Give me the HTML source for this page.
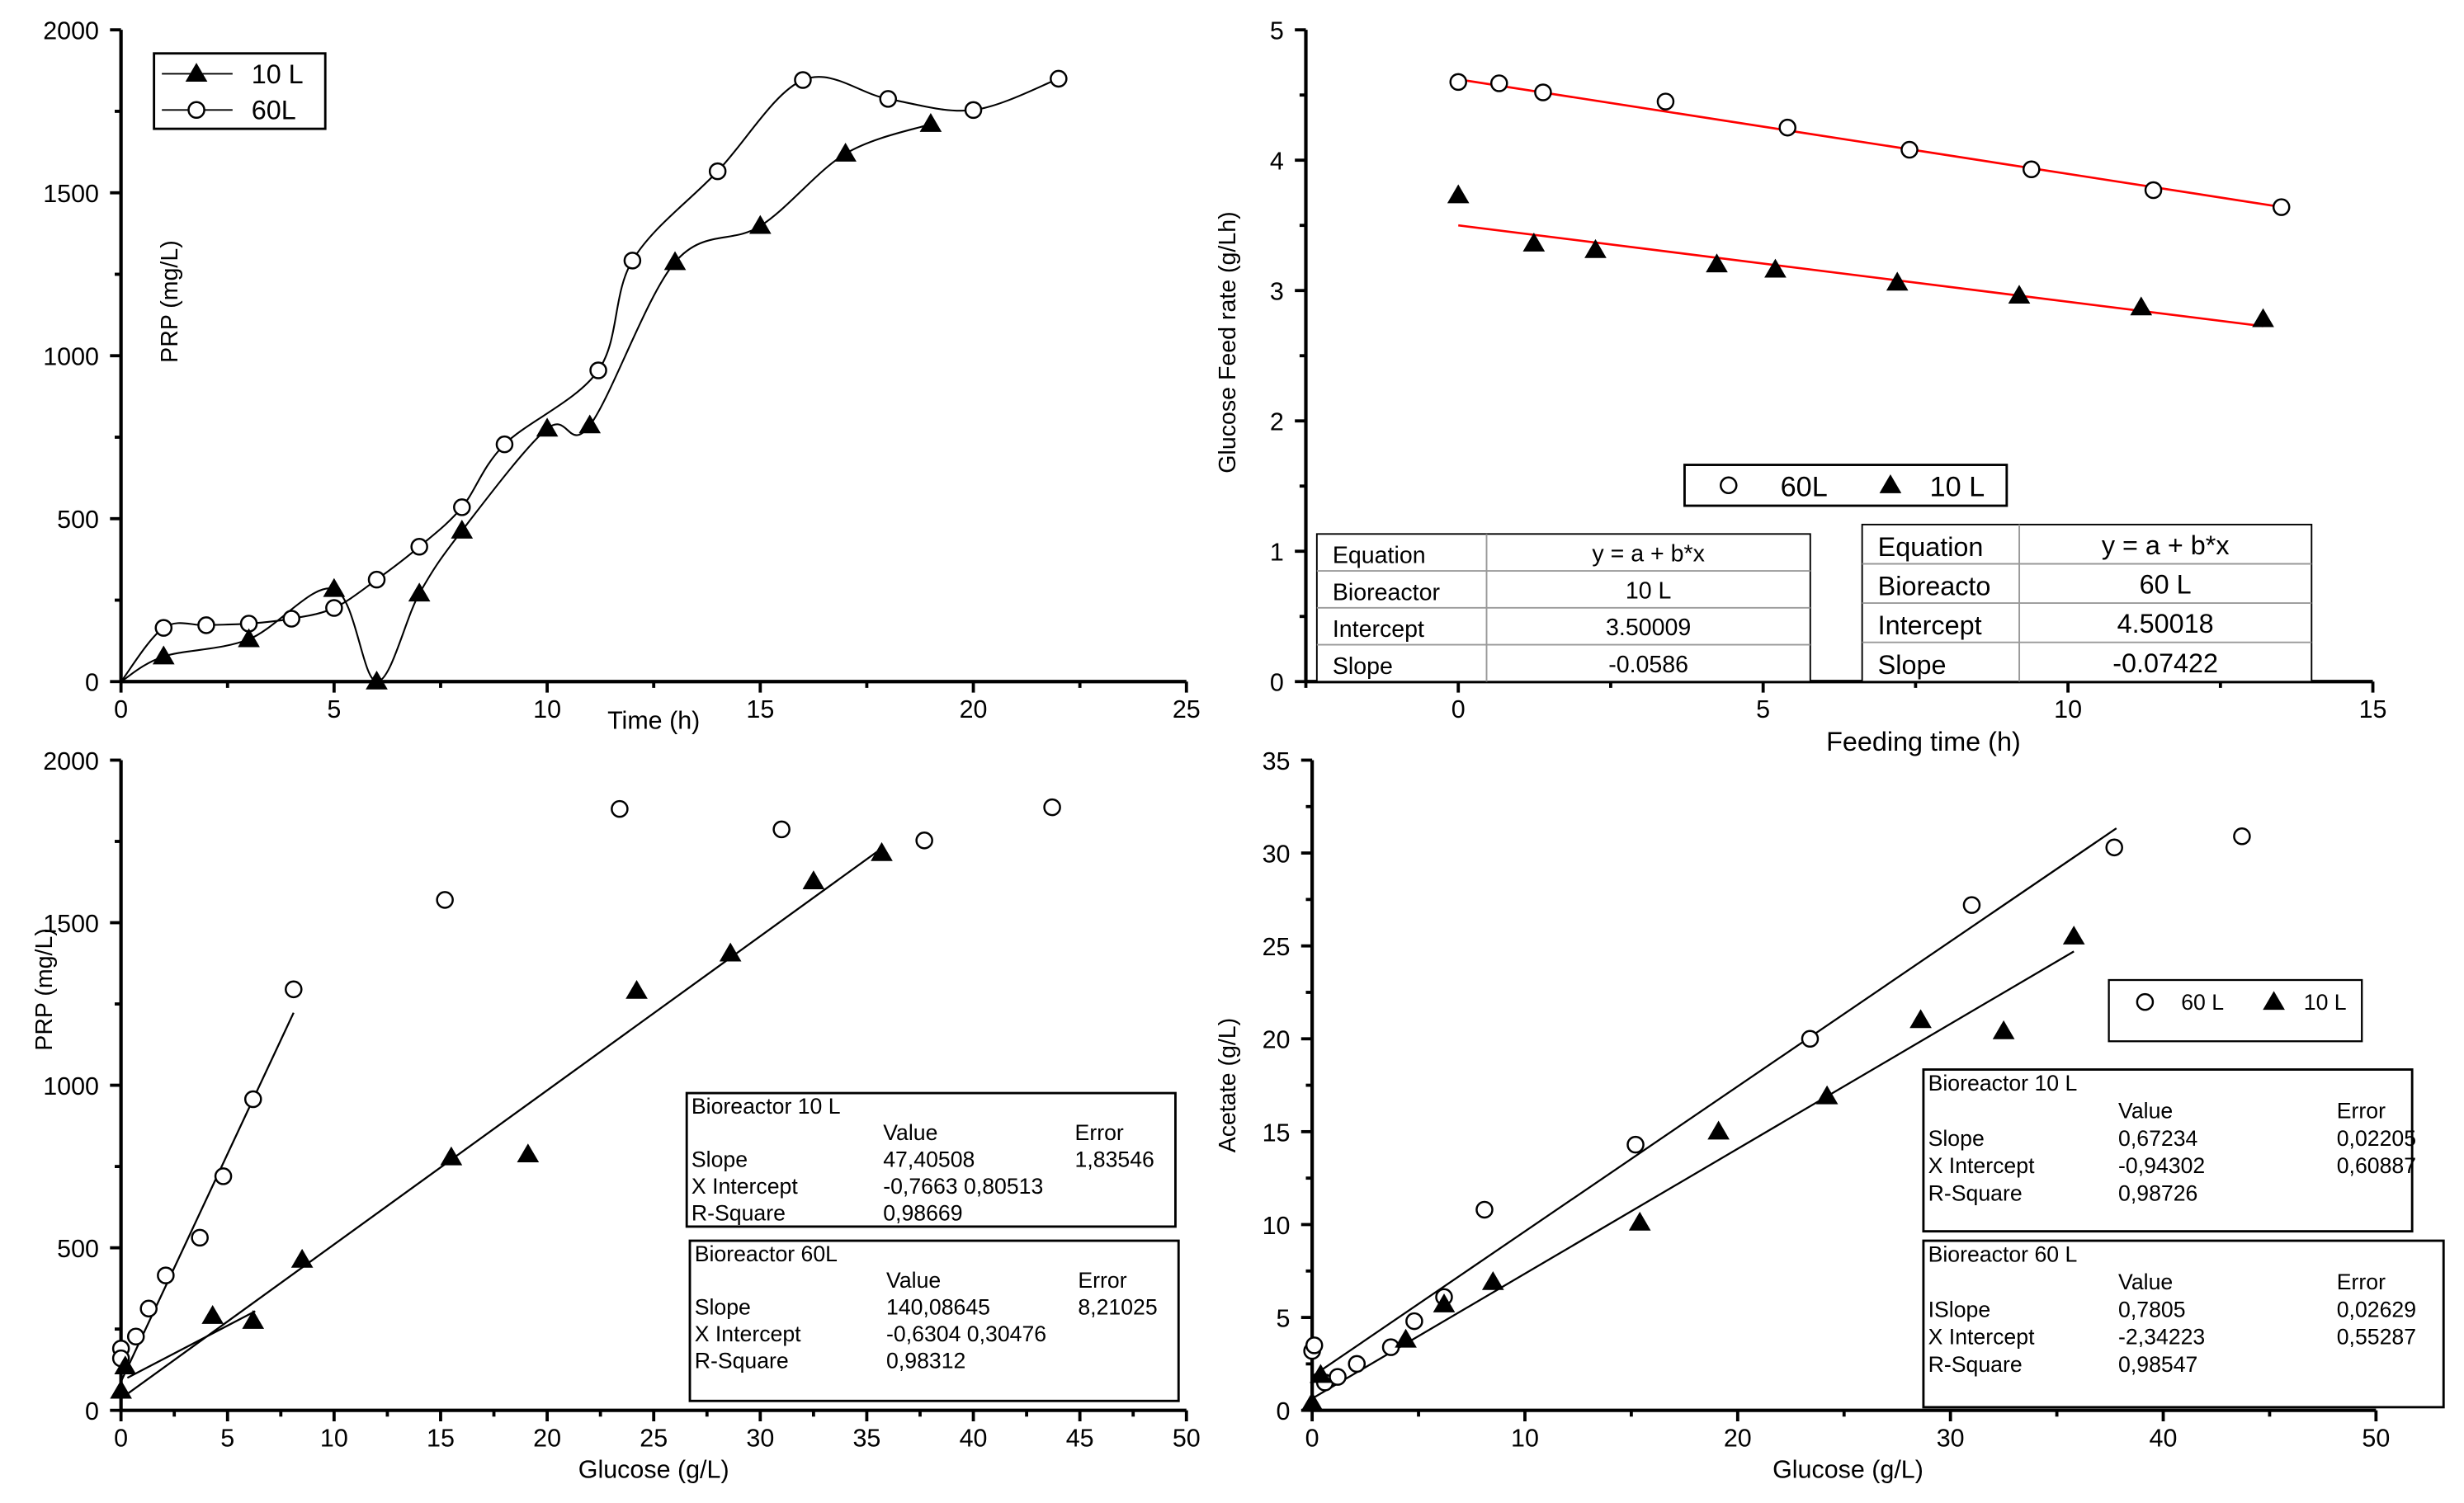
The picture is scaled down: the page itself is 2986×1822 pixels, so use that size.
<!DOCTYPE html>
<html><head><meta charset="utf-8"><style>
html,body{margin:0;padding:0;background:#fff}
svg{display:block}
text{font-family:"Liberation Sans",Arial,sans-serif;fill:#000}
</style></head><body>
<svg id="s" xmlns="http://www.w3.org/2000/svg" width="2986" height="1822" viewBox="0 0 1568 957" preserveAspectRatio="none">
<g id="root"></g>
</svg>
<script>
// Panel A: PRP vs time
const timeA = [0,1,3,5,6,7,8,10,11,13,15,17,19];
const prp10A = [0,77,130,284,0,270,463,776,786,1287,1398,1620,1711];
const timeA60 = [0,1,2,3,4,5,6,7,8,9,11.2,12,14,16,18,20,22];
const prp60A = [0,165,173,178,193,226,313,414,535,728,955,1292,1566,1846,1788,1754,1850];
// Panel B: glucose feed rate
const timeB60 = [0,0.67,1.39,3.4,5.4,7.4,9.4,11.4,13.5];
const feed60B = [4.60,4.59,4.52,4.45,4.25,4.08,3.93,3.77,3.64];
const timeB10 = [0,1.24,2.25,4.24,5.2,7.2,9.2,11.2,13.2];
const feed10B = [3.73,3.36,3.31,3.20,3.16,3.06,2.96,2.87,2.78];
const fitB60 = [4.62,-0.0725];
const fitB10 = [3.50009,-0.0586];
// Panel C: PRP vs glucose
const gluC60 = [0,0,0.7,1.3,2.1,3.7,4.8,6.2,8.1,15.2,23.4,31,37.7,43.7];
const prpC60 = [190,160,227,313,415,531,720,957,1295,1570,1850,1787,1753,1855];
const gluC10 = [0,0.2,4.3,6.2,8.5,15.5,19.1,24.2,28.6,32.5,35.7];
const prpC10 = [60,135,290,275,463,778,787,1290,1405,1627,1714];
// Panel D: acetate vs glucose
const gluD60 = [0,0.1,0.6,1.2,2.1,3.7,4.8,6.2,8.1,15.2,23.4,31,37.7,43.7];
const aceD60 = [3.2,3.5,1.5,1.8,2.5,3.4,4.8,6.1,10.8,14.3,20.0,27.2,30.3,30.9];
const gluD10 = [0,0.4,4.4,6.2,8.5,15.4,19.1,24.2,28.6,32.5,35.8];
const aceD10 = [0.4,1.9,3.8,5.7,6.9,10.1,15.0,16.9,21.0,20.4,25.5];

const NS="http://www.w3.org/2000/svg";
const root=document.getElementById('root');
function el(tag,attrs,parent,txt){const e=document.createElementNS(NS,tag);for(const k in attrs)e.setAttribute(k,attrs[k]);if(txt!==undefined)e.textContent=txt;(parent||root).appendChild(e);return e;}
function scale(d0,d1,r0,r1){return v=>r0+(v-d0)*(r1-r0)/(d1-d0);}

function axes(g,X,Y,xr,yr,xt,yt,xminor,yminor,x0,y0){
  el('line',{x1:X(xr[0]),y1:Y(y0),x2:X(xr[1]),y2:Y(y0),stroke:'#000','stroke-width':2.2},g);
  el('line',{x1:X(x0),y1:Y(yr[0]),x2:X(x0),y2:Y(yr[1]),stroke:'#000','stroke-width':2.2},g);
  xt.forEach(v=>{const t=el('line',{x1:X(v),y1:Y(y0),x2:X(v),y2:Y(y0)+7,stroke:'#000','stroke-width':2},g);
    
    const l=el('text',{x:X(v),y:Y(y0)+23,'font-size':16,'text-anchor':'middle'},g,String(v));
    });
  xminor.forEach(v=>{el('line',{x1:X(v),y1:Y(y0),x2:X(v),y2:Y(y0)+4,stroke:'#000','stroke-width':2},g);});
  yt.forEach(v=>{const t=el('line',{x1:X(x0),y1:Y(v),x2:X(x0)-7,y2:Y(v),stroke:'#000','stroke-width':2},g);
    
    const l=el('text',{x:X(x0)-14,y:Y(v)+6,'font-size':16,'text-anchor':'end'},g,String(v));
    });
  yminor.forEach(v=>{el('line',{x1:X(x0),y1:Y(v),x2:X(x0)-4,y2:Y(v),stroke:'#000','stroke-width':2},g);});
}
function circ(g,x,y){const c=el('circle',{cx:x,cy:y,r:5,fill:'#fff',stroke:'#000','stroke-width':1.3},g);
  }
function tri(g,x,y){const p=el('polygon',{points:`${x},${y-7} ${x-7},${y+5} ${x+7},${y+5}`,fill:'#000'},g);
  }
function spline(pts){let d=`M${pts[0][0]},${pts[0][1]}`;
  for(let i=0;i<pts.length-1;i++){const p0=pts[Math.max(0,i-1)],p1=pts[i],p2=pts[i+1],p3=pts[Math.min(pts.length-1,i+2)];
    d+=` C${p1[0]+(p2[0]-p0[0])/6},${p1[1]+(p2[1]-p0[1])/6} ${p2[0]-(p3[0]-p1[0])/6},${p2[1]-(p3[1]-p1[1])/6} ${p2[0]},${p2[1]}`;}
  return d;}
function table(g,x,y,w,rows,rh,cols,fs){ // simple row text
  rows.forEach((r,i)=>r.forEach((c,j)=>{el('text',{x:x+cols[j],y:y+rh*(i+1)-4,'font-size':fs},g,c);}));
}

// ---------- Panel A ----------
{const g=el('g',{}); 
 const X=scale(0,25,77,755),Y=scale(0,2000,434,19);
 axes(g,X,Y,[0,25],[0,2000],[0,5,10,15,20,25],[0,500,1000,1500,2000],[2.5,7.5,12.5,17.5,22.5],[250,750,1250,1750],0,0);
 const p60=el('path',{d:spline(timeA60.map((t,i)=>[X(t),Y(prp60A[i])])),fill:'none',stroke:'#000','stroke-width':1.1},g);
 
 const p10=el('path',{d:spline(timeA.map((t,i)=>[X(t),Y(prp10A[i])])),fill:'none',stroke:'#000','stroke-width':1.1},g);
 
 timeA60.forEach((t,i)=>{if(i>0)circ(g,X(t),Y(prp60A[i]));});
 timeA.forEach((t,i)=>{if(i>0)tri(g,X(t),Y(prp10A[i]));});
 const yl=el('text',{x:0,y:0,'font-size':15,'text-anchor':'middle',transform:'translate(113,192) rotate(-90)'},g,'PRP (mg/L)');
 
 const xl=el('text',{x:416,y:464,'font-size':16,'text-anchor':'middle'},g,'Time (h)');
 
 const lg=el('g',{},g);
 el('rect',{x:98,y:34,width:109,height:48,fill:'#fff',stroke:'#000','stroke-width':1.5},lg);
 el('line',{x1:103,y1:47,x2:148,y2:47,stroke:'#000'},lg);tri(lg,125,47);
 el('text',{x:160,y:53,'font-size':17},lg,'10 L');
 el('line',{x1:103,y1:70,x2:148,y2:70,stroke:'#000'},lg);circ(lg,125,70);
 el('text',{x:160,y:76,'font-size':17},lg,'60L');
}
// ---------- Panel B ----------
{const g=el('g',{}); 
 const X=scale(0,15,928,1510),Y=scale(0,5,434,19);
 axes(g,X,Y,[-2.5,15],[0,5],[0,5,10,15],[0,1,2,3,4,5],[-2.5,2.5,7.5,12.5],[0.5,1.5,2.5,3.5,4.5],-2.5,0);
 const l1=el('line',{x1:X(0),y1:Y(fitB60[0]),x2:X(13.5),y2:Y(fitB60[0]+fitB60[1]*13.5),stroke:'#f00','stroke-width':1.4},g);
 
 const l2=el('line',{x1:X(0),y1:Y(fitB10[0]),x2:X(13.2),y2:Y(fitB10[0]+fitB10[1]*13.2),stroke:'#f00','stroke-width':1.4},g);
 
 timeB60.forEach((t,i)=>circ(g,X(t),Y(feed60B[i])));
 timeB10.forEach((t,i)=>tri(g,X(t),Y(feed10B[i])));
 const yl=el('text',{x:0,y:0,'font-size':15,'text-anchor':'middle',transform:'translate(786,218) rotate(-90)'},g,'Glucose Feed rate (g/Lh)');
 
 const xl=el('text',{x:1224,y:478,'font-size':17,'text-anchor':'middle'},g,'Feeding time (h)');
 
 const lg=el('g',{},g);
 el('rect',{x:1072,y:296,width:205,height:26,fill:'#fff',stroke:'#000','stroke-width':1.5},lg);
 circ(lg,1100,309);el('text',{x:1133,y:316,'font-size':18},lg,'60L');
 tri(lg,1203,309);el('text',{x:1228,y:316,'font-size':18},lg,'10 L');
 [[838,340,314,946,['Equation','Bioreactor','Intercept','Slope'],['y = a + b*x','10 L','3.50009','-0.0586'],23.5],
  [1185,334,286,1285,['Equation','Bioreacto','Intercept','Slope'],['y = a + b*x','60 L','4.50018','-0.07422'],25]].forEach((T,k)=>{
  const tg=el('g',{},g);
  const [x,y,w,cx,a,b,rh]=T;
  el('rect',{x:x,y:y,width:w,height:434-y,fill:'#fff',stroke:'#000','stroke-width':1},tg);
  el('line',{x1:cx,y1:y,x2:cx,y2:434,stroke:'#999'},tg);
  for(let i=1;i<4;i++)el('line',{x1:x,y1:y+rh*i,x2:x+w,y2:y+rh*i,stroke:'#999'},tg);
  a.forEach((s,i)=>el('text',{x:x+10,y:y+rh*i+rh-5,'font-size':k?17:15},tg,s));
  b.forEach((s,i)=>el('text',{x:(cx+x+w)/2,y:y+rh*i+rh-6,'font-size':k?17:15,'text-anchor':'middle'},tg,s));
 });
}
// ---------- Panel C ----------
{const g=el('g',{}); 
 const X=scale(0,50,77,755),Y=scale(0,2000,898,484);
 axes(g,X,Y,[0,50],[0,2000],[0,5,10,15,20,25,30,35,40,45,50],[0,500,1000,1500,2000],[2.5,7.5,12.5,17.5,22.5,27.5,32.5,37.5,42.5,47.5],[250,750,1250,1750],0,0);
 const f60=[140.08645,-0.6304],f10=[47.40508,-0.7663];
 const a=el('line',{x1:X(0),y1:Y(f60[0]*(0-f60[1])),x2:X(8.1),y2:Y(f60[0]*(8.1-f60[1])),stroke:'#000','stroke-width':1.2},g);
 
 const b=el('line',{x1:X(0),y1:Y(f10[0]*(0-f10[1])),x2:X(35.8),y2:Y(f10[0]*(35.8-f10[1])),stroke:'#000','stroke-width':1.2},g);
 
 el('line',{x1:X(0.3),y1:Y(100),x2:X(6.3),y2:Y(305),stroke:'#000','stroke-width':1.2},g);
 gluC60.forEach((t,i)=>circ(g,X(t),Y(prpC60[i])));
 gluC10.forEach((t,i)=>tri(g,X(t),Y(prpC10[i])));
 const yl=el('text',{x:0,y:0,'font-size':15,'text-anchor':'middle',transform:'translate(33,630) rotate(-90)'},g,'PRP (mg/L)');
 
 const xl=el('text',{x:416,y:941,'font-size':16,'text-anchor':'middle'},g,'Glucose (g/L)');
 
 [[437,696,311,85,'Bioreactor 10 L','47,40508','1,83546','-0,7663 0,80513','0,98669'],
  [439,790,311,102,'Bioreactor 60L','140,08645','8,21025','-0,6304 0,30476','0,98312']].forEach((T,k)=>{
  const tg=el('g',{},g);
  const [x,y,w,h,t,s,e,xi,r]=T;
  el('rect',{x:x,y:y,width:w,height:h,fill:'#fff',stroke:'#000','stroke-width':1.5},tg);
  table(tg,x,y,w,[[t],['','Value','Error'],['Slope',s,e],['X Intercept',xi],['R-Square',r]],17,[3,125,247],14);
 });
}
// ---------- Panel D ----------
{const g=el('g',{}); 
 const X=scale(0,50,835,1512),Y=scale(0,35,898,484);
 axes(g,X,Y,[0,50],[0,35],[0,10,20,30,40,50],[0,5,10,15,20,25,30,35],[5,15,25,35,45],[2.5,7.5,12.5,17.5,22.5,27.5,32.5],0,0);
 const f60=[0.7805,-2.34223],f10=[0.67234,-0.94302];
 const a=el('line',{x1:X(0),y1:Y(f60[0]*(0-f60[1])),x2:X(37.8),y2:Y(f60[0]*(37.8-f60[1])),stroke:'#000','stroke-width':1.2},g);
 
 const b=el('line',{x1:X(0),y1:Y(f10[0]*(0-f10[1])),x2:X(35.8),y2:Y(f10[0]*(35.8-f10[1])),stroke:'#000','stroke-width':1.2},g);
 
 gluD60.forEach((t,i)=>circ(g,X(t),Y(aceD60[i])));
 gluD10.forEach((t,i)=>tri(g,X(t),Y(aceD10[i])));
 const yl=el('text',{x:0,y:0,'font-size':15,'text-anchor':'middle',transform:'translate(786,691) rotate(-90)'},g,'Acetate (g/L)');
 
 const xl=el('text',{x:1176,y:941,'font-size':16,'text-anchor':'middle'},g,'Glucose (g/L)');
 
 const lg=el('g',{},g);
 el('rect',{x:1342,y:624,width:161,height:39,fill:'#fff',stroke:'#000','stroke-width':1.2},lg);
 circ(lg,1365,638);el('text',{x:1388,y:643,'font-size':14},lg,'60 L');
 tri(lg,1447,638);el('text',{x:1466,y:643,'font-size':14},lg,'10 L');
 [[1224,681,311,103,'Bioreactor 10 L','Slope','0,67234','0,02205','-0,94302','0,60887','0,98726'],
  [1224,790,331,106,'Bioreactor  60 L','ISlope','0,7805','0,02629','-2,34223','0,55287','0,98547']].forEach((T,k)=>{
  const tg=el('g',{},g);
  const [x,y,w,h,t,sl,s,e,xi,xe,r]=T;
  el('rect',{x:x,y:y,width:w,height:h,fill:'#fff',stroke:'#000','stroke-width':1.5},tg);
  table(tg,x,y,w,[[t],['','Value','Error'],[sl,s,e],['X Intercept',xi,xe],['R-Square',r]],17.5,[3,124,263],14);
 });
}
</script>
</body></html>
